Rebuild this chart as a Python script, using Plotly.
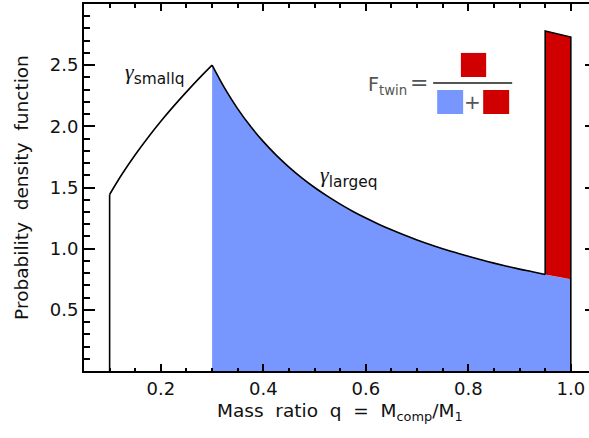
import plotly.graph_objects as go

# Mass-ratio distribution: rising power law below q = 0.3, falling power law above
q_small = [0.10, 0.125, 0.15, 0.175, 0.20, 0.225, 0.25, 0.275, 0.30]
pdf_small = [1.443, 1.614, 1.768, 1.909, 2.041, 2.165, 2.282, 2.394, 2.500]

q_large = [0.30, 0.325, 0.35, 0.375, 0.40, 0.425, 0.45, 0.475, 0.50, 0.525,
           0.55, 0.575, 0.60, 0.625, 0.65, 0.675, 0.70, 0.725, 0.75, 0.775,
           0.80, 0.825, 0.85, 0.875, 0.90, 0.925, 0.95, 0.975, 1.00]
pdf_large = [2.500, 2.308, 2.143, 2.000, 1.875, 1.765, 1.667, 1.579, 1.500, 1.429,
             1.364, 1.304, 1.250, 1.200, 1.154, 1.111, 1.071, 1.034, 1.000, 0.968,
             0.938, 0.909, 0.882, 0.857, 0.833, 0.811, 0.789, 0.769, 0.750]

# Twin excess near q = 1
q_twin = [0.95, 1.00]
twin_top = [2.78, 2.73]

x_ticks = [0.2, 0.4, 0.6, 0.8, 1.0]
y_ticks = [0.5, 1.0, 1.5, 2.0, 2.5]

BLUE = "#7797ff"
RED = "#d00000"
GREY = "#555555"
INK = "#111111"
FONT = "DejaVu Sans"
NB = "\u00a0"

fig = go.Figure()

# Blue area under the large-q power law
fig.add_trace(go.Scatter(
    x=q_large, y=pdf_large, mode="lines", line=dict(width=0, shape="spline"),
    fill="tozeroy", fillcolor=BLUE, hoverinfo="skip", showlegend=False))

# Red twin excess between q_twin and 1
i_twin = q_large.index(q_twin[0])
twin_x = q_large[i_twin:] + [q_twin[1], q_twin[0]]
twin_y = pdf_large[i_twin:] + [twin_top[1], twin_top[0]]
fig.add_trace(go.Scatter(
    x=twin_x, y=twin_y, mode="lines", line=dict(width=0),
    fill="toself", fillcolor=RED, hoverinfo="skip", showlegend=False))

# Black outline: the two power-law curves ...
line_style = dict(color="black", width=1.6)
fig.add_trace(go.Scatter(
    x=q_small, y=pdf_small, mode="lines", yaxis="y2",
    line=dict(shape="spline", **line_style), hoverinfo="skip", showlegend=False))
fig.add_trace(go.Scatter(
    x=q_large[:i_twin + 1], y=pdf_large[:i_twin + 1], mode="lines", yaxis="y2",
    line=dict(shape="spline", **line_style), hoverinfo="skip", showlegend=False))
# ... and the straight edges at the low-q cut and around the twin bin
edge_x = [q_small[0], q_small[0], None,
          q_twin[0], q_twin[0], q_twin[1], q_twin[1]]
edge_y = [0, pdf_small[0], None,
          pdf_large[i_twin], twin_top[0], twin_top[1], 0]
fig.add_trace(go.Scatter(
    x=edge_x, y=edge_y, mode="lines", yaxis="y2",
    line=line_style, hoverinfo="skip", showlegend=False))

tick_font = dict(family=FONT, size=18, color=INK)

fig.update_layout(
    width=589, height=438,
    margin=dict(l=84, r=0, t=4, b=67),
    paper_bgcolor="white", plot_bgcolor="white",
    showlegend=False,
    xaxis=dict(
        range=[0.05, 1.0355], showgrid=False, zeroline=False,
        showline=True, linecolor="black", linewidth=2, mirror="ticks",
        tickvals=x_ticks, ticktext=[f"{v:.1f}" for v in x_ticks],
        ticks="inside", ticklen=7, tickwidth=1.5, tickcolor="black",
        minor=dict(dtick=0.05, tick0=0.0, ticks="inside", ticklen=3.5,
                   tickwidth=1.5, tickcolor="black", showgrid=False),
        tickfont=tick_font,
    ),
    yaxis=dict(
        range=[0, 3], showgrid=False, zeroline=False,
        showline=True, linecolor="black", linewidth=2,
        tickvals=y_ticks, ticktext=[f"{v:.1f}" for v in y_ticks],
        ticks="inside", ticklen=10.5, tickwidth=1.5, tickcolor="black",
        minor=dict(dtick=0.1, tick0=0.0, ticks="inside", ticklen=5.5,
                   tickwidth=1.5, tickcolor="black", showgrid=False),
        tickfont=tick_font,
    ),
    yaxis2=dict(
        matches="y", overlaying="y", side="right", anchor="x",
        showgrid=False, zeroline=False, showline=False,
        tickvals=y_ticks, showticklabels=False,
        ticks="inside", ticklen=4, tickwidth=1.5, tickcolor="black",
    ),
)

gamma = '<span style="font-family:Liberation Serif"><i>γ</i></span>'

annotations = [
    # axis titles
    dict(text=f"Mass{NB} ratio{NB} q{NB} ={NB} M<sub>comp</sub>/M<sub>1</sub>",
         x=0.55, xref="x", y=-0.113, yref="paper",
         xanchor="center", yanchor="middle", showarrow=False,
         font=dict(family=FONT, size=18.5, color=INK)),
    dict(text=f"Probability{NB} density{NB} function", textangle=-90,
         x=-0.124, xref="paper", y=0.5, yref="paper",
         xanchor="center", yanchor="middle", showarrow=False,
         font=dict(family=FONT, size=18.5, color=INK)),
    # power-law labels
    dict(text=f"{gamma}<sub>smallq</sub>", x=0.126, y=2.43, xref="x", yref="y",
         xanchor="left", yanchor="middle", showarrow=False,
         font=dict(family=FONT, size=22, color=INK)),
    dict(text=f"{gamma}<sub>largeq</sub>", x=0.506, y=1.59, xref="x", yref="y",
         xanchor="left", yanchor="middle", showarrow=False,
         font=dict(family=FONT, size=22, color=INK)),
    # twin fraction formula
    dict(text="F<sub>twin</sub>", x=0.601, y=2.33, xref="x", yref="y",
         xanchor="left", yanchor="middle", showarrow=False,
         font=dict(family=FONT, size=19, color=GREY)),
    dict(text="=", x=0.703, y=2.36, xref="x", yref="y",
         xanchor="center", yanchor="middle", showarrow=False,
         font=dict(family=FONT, size=22, color=GREY)),
    dict(text="+", x=0.8075, y=2.20, xref="x", yref="y",
         xanchor="center", yanchor="middle", showarrow=False,
         font=dict(family=FONT, size=20, color=GREY)),
]
fig.update_layout(annotations=annotations)

shapes = [
    # fraction bar
    dict(type="line", x0=0.7314, x1=0.8856, y0=2.354, y1=2.354,
         xref="x", yref="y", line=dict(color=GREY, width=2)),
    # numerator: twin part
    dict(type="rect", x0=0.7855, x1=0.8348, y0=2.403, y1=2.600,
         xref="x", yref="y", fillcolor=RED, line=dict(width=0)),
    # denominator: non-twin + twin
    dict(type="rect", x0=0.7392, x1=0.7899, y0=2.101, y1=2.297,
         xref="x", yref="y", fillcolor=BLUE, line=dict(width=0)),
    dict(type="rect", x0=0.8290, x1=0.8797, y0=2.101, y1=2.297,
         xref="x", yref="y", fillcolor=RED, line=dict(width=0)),
]
fig.update_layout(shapes=shapes)

fig.write_html("out.html")
